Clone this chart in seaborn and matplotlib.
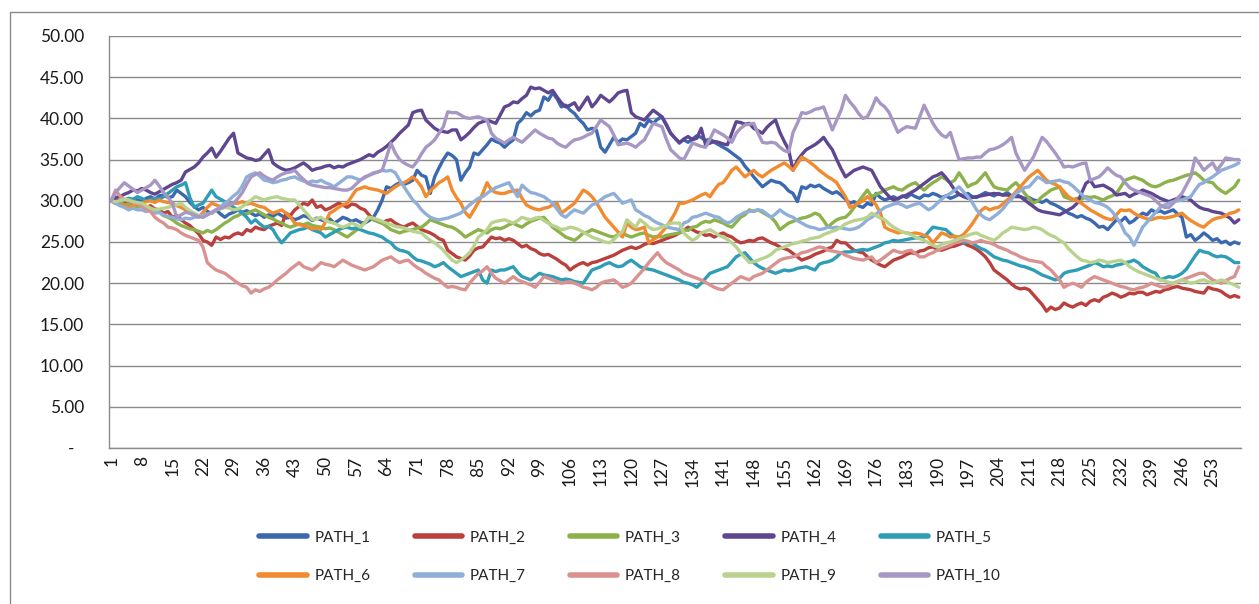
import numpy as np
import pandas as pd
import matplotlib
matplotlib.use("Agg")
import matplotlib.pyplot as plt
from matplotlib.lines import Line2D
from matplotlib.patches import Rectangle
import seaborn as sns

# values, one list per path (steps 1..259)
path_1 = [30.0, 29.7, 29.9, 29.7, 29.5, 29.8, 30.1, 29.9, 30.3, 30.5,
          30.2, 30.6, 30.7, 30.4, 30.5, 31.3, 30.9, 30.5, 29.8, 29.3,
          28.9, 29.2, 28.7, 28.5, 28.9, 28.4, 28.0, 28.4, 28.6, 28.9,
          28.6, 28.8, 28.5, 28.2, 28.4, 28.0, 28.3, 28.1, 28.5, 28.2,
          27.9, 28.0, 27.7, 27.9, 28.2, 28.0, 27.6, 27.9, 27.7, 27.5,
          27.8, 27.3, 27.6, 28.0, 27.8, 27.5, 27.7, 27.4, 27.3, 27.6,
          28.0, 28.9, 30.1, 31.7, 31.5, 31.9, 32.2, 32.0, 32.2, 32.5,
          33.7, 33.1, 32.9, 30.9, 32.9, 34.0, 35.0, 35.8, 35.5, 35.0,
          32.5, 33.4, 34.1, 35.8, 35.6, 36.2, 36.8, 37.5, 37.2, 37.0,
          36.5, 37.0, 37.4, 39.4, 39.9, 40.7, 40.3, 40.8, 41.0, 42.6,
          42.2, 43.1, 42.4, 41.4, 41.6, 41.0, 40.6, 39.9, 39.4, 38.6,
          38.8, 38.6, 36.5, 35.9, 36.8, 37.7, 37.1, 37.5, 37.4, 37.8,
          38.2, 39.4, 39.0, 39.8, 39.4, 39.9, 40.2, 39.3, 38.2, 37.6,
          37.1, 37.4, 37.1, 37.5, 37.9, 37.7, 37.3, 37.5, 37.1, 36.8,
          36.5, 36.2, 35.8, 35.4, 35.0, 34.2, 33.6, 32.9, 32.3, 31.7,
          32.1, 32.5, 32.3, 32.2, 31.8, 31.2, 30.9, 29.9, 31.7, 31.5,
          31.9, 31.7, 31.9, 31.5, 31.2, 30.9, 31.1, 30.7, 30.2, 29.7,
          29.9, 29.4, 29.2, 29.7, 29.5, 30.9, 30.4, 30.1, 30.3, 30.5,
          30.2, 30.6, 30.4, 30.8, 30.5, 30.3, 30.7, 30.6, 30.9, 30.7,
          30.4, 30.6, 30.3, 30.5, 30.8, 30.6, 30.9, 30.5, 30.4, 30.7,
          31.0, 30.8, 30.6, 30.9, 30.7, 31.0, 30.6, 30.8, 30.5, 30.3,
          30.4, 30.1, 30.0, 29.8, 30.1, 29.7, 29.5, 29.2, 28.9, 28.5,
          28.3, 28.0, 28.2, 27.9, 27.7, 27.3, 26.8, 26.9, 26.5, 27.1,
          27.7, 27.5, 28.0, 27.3, 27.6, 28.1, 28.5, 28.3, 28.9, 28.6,
          28.8, 28.5, 28.7, 28.9, 28.4, 28.0, 25.6, 25.9, 25.2, 25.6,
          26.1, 25.7, 25.2, 25.4, 24.9, 25.1, 24.7, 25.0, 24.8]

path_2 = [30.0, 30.1, 29.9, 30.0, 29.8, 29.7, 29.5, 29.6, 29.2, 29.4,
          29.0, 28.9, 28.5, 28.7, 28.0, 28.2, 27.7, 27.3, 27.0, 26.5,
          26.0, 25.2, 25.0, 24.6, 25.6, 25.3, 25.6, 25.5, 25.9, 26.1,
          25.9, 26.5, 26.3, 26.8, 26.6, 26.5, 26.9, 27.1, 27.3, 27.0,
          28.5, 28.2, 28.9, 29.3, 29.7, 29.5, 30.1, 29.2, 29.4, 28.9,
          29.1, 29.4, 29.7, 29.5, 29.2, 29.6, 29.5, 29.1, 28.9, 28.3,
          27.7, 27.5, 27.3, 27.6, 27.7, 27.3, 27.0, 26.8, 27.1, 27.3,
          26.9, 26.5, 26.3, 26.1, 25.8, 25.4, 25.2, 24.0, 23.6, 23.2,
          23.0, 22.8, 23.3, 24.0, 24.3, 24.4, 25.0, 25.6, 25.4, 25.5,
          25.2, 25.4, 25.2, 24.8, 24.4, 24.6, 24.2, 24.0, 23.6, 23.4,
          23.5, 23.2, 22.9, 22.5, 22.2, 21.6, 22.0, 22.3, 22.5, 22.2,
          22.5, 22.6, 22.8, 23.0, 23.2, 23.4, 23.7, 24.0, 24.2, 24.4,
          24.2, 24.4, 24.7, 24.9, 24.8, 25.0, 25.2, 25.4, 25.6, 25.8,
          26.1, 26.4, 26.8, 26.5, 26.2, 26.1, 25.8, 25.9, 25.6, 25.9,
          26.1, 25.8, 25.6, 25.2, 24.9, 25.0, 25.2, 25.1, 25.4, 25.5,
          25.2, 24.9, 24.7, 24.4, 24.2, 24.0, 23.6, 23.2, 22.8, 23.0,
          23.2, 23.5, 23.7, 23.9, 24.2, 24.4, 25.2, 24.9, 24.9, 24.4,
          24.0, 23.8, 23.7, 23.2, 22.8, 22.5, 22.2, 22.0, 22.4, 22.8,
          23.0, 23.2, 23.5, 23.7, 23.6, 23.9, 24.0, 24.3, 24.4, 24.1,
          24.0, 24.2, 24.4, 24.5, 24.7, 24.9, 24.6, 24.4, 24.1, 23.7,
          23.2, 22.5, 21.6, 21.2, 20.8, 20.4, 19.9, 19.5, 19.3, 19.4,
          19.2, 18.6, 18.0, 17.4, 16.6, 17.1, 16.8, 17.0, 17.6, 17.3,
          17.1, 17.4, 17.6, 17.3, 17.8, 18.0, 17.8, 18.3, 18.5, 18.8,
          18.6, 18.3, 18.5, 18.8, 18.7, 18.9, 18.9, 18.6, 18.8, 19.0,
          18.9, 19.2, 19.3, 19.5, 19.6, 19.4, 19.3, 19.2, 19.0, 18.9,
          18.8, 19.5, 19.3, 19.2, 19.0, 18.6, 18.3, 18.5, 18.3]

path_3 = [30.0, 29.7, 29.9, 29.5, 29.6, 29.3, 29.2, 29.4, 29.0, 29.1,
          28.9, 28.6, 28.2, 28.0, 27.7, 27.3, 27.0, 26.8, 26.6, 26.5,
          26.3, 26.1, 26.4, 26.2, 26.5, 26.9, 27.3, 27.6, 28.0, 28.2,
          28.5, 28.4, 28.7, 28.9, 28.6, 28.3, 28.0, 27.8, 27.5, 27.3,
          27.0, 26.8, 27.0, 27.2, 27.1, 27.3, 27.0, 26.9, 26.8, 26.6,
          26.7, 26.5, 26.2, 25.9, 25.6, 26.0, 26.4, 26.8, 27.4, 28.0,
          27.7, 27.5, 27.3, 26.9, 26.5, 26.3, 26.1, 26.3, 26.4, 26.5,
          26.7, 26.8, 27.2, 27.7, 27.5, 27.3, 27.1, 26.9, 26.8, 26.5,
          26.1, 25.6, 25.9, 26.2, 26.5, 26.3, 26.1, 26.5, 26.7, 26.6,
          26.8, 27.1, 27.3, 27.0, 26.8, 27.2, 27.5, 27.7, 27.9, 28.0,
          27.4, 26.8, 26.4, 26.0, 25.6, 25.4, 25.2, 25.6, 26.1, 26.2,
          26.5, 26.3, 26.1, 25.9, 25.7, 25.6, 25.9, 26.1, 25.8, 25.6,
          25.8, 26.0, 26.1, 25.8, 25.6, 25.7, 25.6, 25.8, 25.9, 26.0,
          26.1, 26.5, 26.4, 26.8, 26.9, 27.3, 27.5, 27.4, 27.7, 27.5,
          27.3, 27.0, 26.8, 27.4, 28.0, 28.3, 28.9, 28.7, 28.9, 28.6,
          28.3, 28.0, 27.4, 26.5, 26.9, 27.3, 27.5, 27.7, 27.9, 28.0,
          28.2, 28.5, 28.3, 27.6, 26.8, 27.3, 27.7, 27.9, 28.0, 28.5,
          29.2, 29.9, 30.6, 31.3, 30.5, 30.8, 31.0, 31.3, 31.5, 31.7,
          31.4, 31.3, 31.7, 32.0, 32.2, 31.7, 31.3, 31.8, 32.2, 32.5,
          32.9, 32.6, 32.2, 32.5, 33.4, 32.6, 31.7, 32.0, 32.2, 32.8,
          33.4, 32.5, 31.7, 31.5, 31.4, 31.3, 31.8, 32.2, 31.6, 30.9,
          30.3, 29.7, 30.0, 30.5, 30.9, 31.3, 31.5, 31.7, 30.5, 30.3,
          30.1, 30.3, 30.2, 30.5, 30.4, 30.5, 30.3, 30.1, 30.4, 30.6,
          30.9, 31.7, 32.5, 32.7, 32.9, 32.7, 32.5, 32.1, 31.8, 31.7,
          31.9, 32.2, 32.4, 32.5, 32.7, 32.9, 33.1, 33.2, 33.4, 33.0,
          32.5, 32.3, 32.2, 31.6, 31.2, 30.9, 31.3, 31.7, 32.5]

path_4 = [30.0, 30.4, 30.5, 30.8, 31.0, 31.3, 31.2, 31.5, 31.3, 31.0,
          30.8, 31.1, 31.4, 31.7, 32.0, 32.2, 32.5, 33.5, 33.8, 34.1,
          34.6, 35.3, 35.8, 36.4, 35.3, 36.0, 36.8, 37.6, 38.2, 35.8,
          35.5, 35.2, 35.1, 34.9, 35.0, 35.6, 36.2, 34.6, 34.2, 33.9,
          33.7, 33.8, 34.0, 34.3, 34.6, 34.2, 33.7, 33.9, 34.0, 34.2,
          34.3, 34.0, 34.2, 34.1, 34.4, 34.6, 34.8, 35.0, 35.3, 35.6,
          35.4, 35.9, 36.2, 36.6, 37.1, 37.6, 38.2, 38.7, 39.2, 40.7,
          40.9, 41.0, 39.8, 39.3, 38.8, 38.5, 38.4, 38.3, 38.6, 38.6,
          37.4, 37.8, 38.3, 38.9, 39.4, 39.6, 39.8, 39.6, 39.4, 40.4,
          41.4, 41.6, 42.0, 41.9, 42.4, 42.8, 43.8, 43.6, 43.7, 43.4,
          43.1, 43.4, 42.6, 41.9, 41.4, 41.6, 41.9, 41.0, 41.8, 42.6,
          41.4, 42.0, 42.8, 42.4, 42.0, 42.5, 43.1, 43.3, 43.4, 40.7,
          40.2, 40.0, 39.8, 40.4, 41.0, 40.6, 40.2, 39.2, 38.2, 37.6,
          37.0, 37.5, 37.8, 37.4, 37.6, 38.8, 36.8, 37.0, 37.2, 37.1,
          36.9, 36.8, 38.2, 39.6, 39.5, 39.3, 39.4, 38.8, 38.5, 38.2,
          38.9, 39.4, 39.8, 38.3, 37.2, 36.2, 33.7, 34.9, 35.6, 36.2,
          36.5, 36.8, 37.2, 37.7, 36.9, 36.2, 35.0, 33.9, 32.9, 33.3,
          33.7, 33.9, 34.1, 33.9, 33.7, 32.7, 31.7, 31.1, 30.5, 30.1,
          30.3, 30.5, 30.7, 31.0, 31.3, 31.7, 32.1, 32.5, 32.9, 33.1,
          33.4, 32.8, 32.1, 31.3, 30.8, 30.5, 30.3, 30.4, 30.5, 30.6,
          30.7, 30.8, 30.9, 30.8, 30.7, 30.7, 30.6, 30.5, 30.5, 30.1,
          29.7, 29.3, 28.9, 28.7, 28.6, 28.5, 28.4, 28.3, 28.6, 28.9,
          29.2, 29.7, 30.9, 32.1, 32.5, 31.7, 31.8, 31.9, 31.6, 31.3,
          30.7, 30.8, 30.9, 30.5, 30.8, 31.0, 31.3, 31.1, 30.9, 30.6,
          30.3, 30.1, 29.9, 30.1, 30.3, 30.5, 30.3, 30.1, 29.6, 29.2,
          29.0, 28.9, 28.7, 28.6, 28.5, 28.2, 27.9, 27.3, 27.7]

path_5 = [30.0, 29.8, 30.0, 30.1, 30.3, 30.2, 30.5, 30.3, 30.0, 30.1,
          30.3, 30.2, 30.5, 30.9, 31.3, 31.7, 31.9, 32.2, 30.4, 29.2,
          29.5, 29.7, 30.5, 31.3, 30.5, 30.2, 29.9, 29.7, 29.2, 28.9,
          28.5, 28.0, 27.3, 27.7, 27.2, 26.8, 26.9, 26.5, 25.6, 24.9,
          25.5, 26.1, 26.3, 26.5, 26.6, 26.8, 26.5, 26.3, 26.1, 25.6,
          25.9, 26.2, 26.5, 26.7, 26.8, 26.6, 26.7, 26.5, 26.3, 26.1,
          26.0, 25.8, 25.6, 25.2, 24.9, 24.3, 24.0, 23.9, 23.7, 23.2,
          22.8, 22.7, 22.5, 22.3, 22.0, 22.2, 22.5, 22.0, 21.6, 21.2,
          20.8, 21.0, 21.2, 21.4, 21.6, 20.4, 20.0, 21.6, 21.4, 21.6,
          21.6, 21.8, 22.0, 21.3, 20.8, 20.6, 20.4, 20.8, 21.2, 21.0,
          20.9, 20.8, 20.6, 20.4, 20.5, 20.4, 20.2, 20.1, 20.0, 20.8,
          21.6, 21.8, 22.0, 22.3, 22.5, 22.2, 22.0, 22.1, 22.5, 22.8,
          22.4, 22.0, 21.8, 21.7, 21.6, 21.4, 21.2, 21.0, 20.8, 20.6,
          20.4, 20.1, 20.0, 19.8, 19.5, 20.0, 20.6, 21.2, 21.4, 21.6,
          21.8, 22.0, 22.6, 23.2, 23.5, 23.7, 23.1, 22.5, 22.1, 21.8,
          21.6, 21.4, 21.2, 21.4, 21.6, 21.5, 21.6, 21.8, 21.9, 22.0,
          21.8, 21.6, 22.3, 22.5, 22.6, 22.8, 23.2, 23.7, 23.8, 23.8,
          23.9, 24.0, 24.1, 24.0, 24.2, 24.4, 24.6, 24.9, 25.0, 25.2,
          25.1, 25.2, 25.3, 25.4, 25.5, 25.5, 25.6, 26.2, 26.8, 26.7,
          26.6, 26.5, 26.0, 25.6, 25.3, 24.9, 25.0, 24.9, 24.5, 24.2,
          24.0, 23.6, 23.2, 23.0, 22.8, 22.7, 22.5, 22.3, 22.1, 22.0,
          21.8, 21.6, 21.3, 21.0, 20.8, 20.6, 20.4, 20.6, 21.2, 21.4,
          21.5, 21.6, 21.8, 22.0, 22.2, 22.5, 22.3, 22.0, 22.1, 22.0,
          22.2, 22.3, 22.5, 22.6, 22.8, 22.5, 22.0, 21.7, 21.4, 21.2,
          20.4, 20.6, 20.8, 20.7, 20.9, 21.2, 21.7, 22.5, 23.3, 24.0,
          23.8, 23.7, 23.4, 23.2, 23.3, 23.2, 22.9, 22.5, 22.5]

path_6 = [30.0, 29.7, 29.5, 29.4, 29.2, 29.4, 29.6, 29.7, 29.9, 30.0,
          29.8, 30.1, 29.9, 29.8, 29.7, 29.4, 29.2, 28.9, 28.5, 28.2,
          28.0, 28.6, 29.2, 29.7, 29.5, 29.3, 29.2, 29.5, 29.7, 29.7,
          29.9, 29.6, 29.7, 29.5, 29.3, 29.2, 28.8, 28.5, 28.7, 28.9,
          28.5, 28.0, 27.3, 27.1, 27.0, 26.8, 26.6, 26.7, 26.5, 27.4,
          28.5, 28.8, 29.2, 29.5, 29.7, 30.5, 31.3, 31.5, 31.7, 31.5,
          31.4, 31.3, 31.1, 30.9, 31.3, 31.7, 32.0, 32.2, 32.5, 32.9,
          32.4, 31.7, 30.5, 31.2, 31.7, 32.2, 32.5, 32.9, 31.3, 30.4,
          29.7, 28.6, 28.0, 28.9, 29.8, 30.9, 32.2, 31.3, 31.0, 30.9,
          30.9, 31.1, 31.2, 31.3, 30.3, 29.5, 29.2, 29.0, 28.9, 29.1,
          29.2, 29.5, 29.7, 28.5, 28.9, 29.3, 29.7, 30.5, 31.3, 31.0,
          30.5, 29.8, 28.9, 28.0, 27.4, 26.8, 26.2, 25.6, 27.3, 26.8,
          26.5, 26.6, 26.8, 24.9, 25.3, 25.6, 26.2, 26.8, 27.6, 28.5,
          29.7, 29.7, 29.9, 30.1, 30.4, 30.7, 30.9, 30.5, 31.3, 32.0,
          32.2, 32.9, 33.7, 34.1, 33.5, 32.9, 33.3, 33.7, 33.2, 32.9,
          33.3, 33.7, 34.0, 34.3, 34.6, 34.2, 33.7, 34.5, 35.3, 35.0,
          34.6, 34.2, 33.7, 33.3, 32.9, 32.6, 32.2, 31.3, 30.5, 29.2,
          29.4, 29.7, 30.0, 30.5, 30.1, 29.5, 28.5, 26.8, 26.5, 26.3,
          26.1, 26.2, 26.1, 26.0, 26.1, 26.0, 25.8, 25.6, 24.9, 25.5,
          26.1, 25.9, 25.6, 25.7, 25.6, 25.9, 26.5, 27.2, 28.0, 28.8,
          29.2, 28.9, 29.1, 29.2, 29.6, 30.1, 30.5, 31.1, 31.7, 32.3,
          32.9, 33.3, 33.7, 33.1, 32.5, 32.2, 32.0, 31.7, 31.1, 30.5,
          30.2, 30.0, 29.7, 29.3, 28.9, 28.6, 28.3, 28.0, 27.8, 27.7,
          28.3, 28.9, 28.8, 28.9, 28.5, 28.2, 28.0, 27.8, 27.7, 27.9,
          28.0, 27.9, 28.0, 28.1, 28.3, 28.5, 28.0, 27.6, 27.3, 27.0,
          26.8, 27.3, 27.7, 27.9, 28.0, 28.2, 28.5, 28.6, 28.9]

path_7 = [30.0, 29.7, 29.4, 29.2, 28.9, 29.1, 28.9, 28.9, 28.7, 28.8,
          28.5, 28.6, 28.3, 28.1, 28.0, 27.8, 27.7, 27.9, 27.8, 28.0,
          28.1, 28.3, 28.4, 28.5, 28.9, 29.3, 29.7, 30.1, 30.6, 31.0,
          31.8, 32.9, 33.2, 33.4, 33.0, 32.5, 32.4, 32.2, 32.3, 32.5,
          32.6, 32.8, 32.9, 32.6, 32.4, 32.2, 32.4, 32.3, 32.5, 32.2,
          32.0, 31.7, 32.1, 32.5, 32.9, 32.9, 32.7, 32.5, 32.8, 33.1,
          33.4, 33.5, 33.7, 33.6, 33.7, 33.4, 32.5, 31.7, 30.9, 30.1,
          29.6, 28.9, 28.4, 28.0, 27.8, 27.7, 27.8, 27.9, 28.1, 28.3,
          28.5, 29.0, 29.5, 29.9, 30.3, 30.5, 30.9, 31.3, 31.6, 31.8,
          32.0, 32.2, 31.3, 30.5, 31.9, 31.4, 31.0, 30.9, 30.7, 30.5,
          30.1, 29.7, 29.0, 28.3, 28.0, 28.5, 28.9, 28.7, 28.5, 29.0,
          29.5, 29.7, 30.1, 30.5, 30.7, 30.9, 30.3, 29.7, 29.9, 30.1,
          28.9, 28.6, 28.2, 28.0, 27.6, 27.3, 27.1, 26.8, 26.7, 26.6,
          26.5, 27.3, 27.5, 28.0, 28.1, 28.3, 28.5, 28.3, 28.1, 28.0,
          27.6, 27.3, 27.5, 28.0, 28.3, 28.6, 28.7, 28.8, 28.9, 28.8,
          28.4, 28.0, 28.4, 28.9, 28.5, 28.2, 28.0, 27.6, 27.3, 27.0,
          26.8, 26.7, 26.5, 26.6, 26.8, 26.7, 26.8, 26.7, 26.6, 26.5,
          26.6, 26.8, 27.2, 27.7, 28.0, 28.4, 28.8, 29.2, 29.4, 29.6,
          29.7, 29.5, 29.2, 29.4, 29.6, 29.7, 29.3, 28.9, 29.2, 29.7,
          30.2, 30.6, 30.9, 31.3, 31.7, 31.1, 30.5, 29.8, 28.9, 28.3,
          27.9, 27.7, 28.1, 28.5, 29.0, 29.7, 30.2, 30.9, 31.2, 31.6,
          31.7, 32.3, 32.9, 32.6, 32.2, 32.3, 32.4, 32.5, 32.3, 32.2,
          31.8, 31.3, 30.8, 30.3, 30.1, 29.8, 29.7, 29.5, 29.2, 28.7,
          28.0, 27.2, 26.1, 25.6, 24.6, 25.7, 26.8, 27.4, 28.0, 28.6,
          29.2, 29.5, 29.7, 29.9, 30.0, 30.1, 30.3, 30.5, 31.3, 32.0,
          32.2, 32.6, 32.9, 33.3, 33.7, 33.9, 34.1, 34.3, 34.6]

path_8 = [30.0, 31.3, 30.6, 30.1, 30.0, 29.8, 29.7, 29.3, 29.0, 28.7,
          28.0, 27.6, 27.3, 26.8, 26.7, 26.5, 26.1, 25.8, 25.6, 25.4,
          25.2, 24.4, 22.5, 22.0, 21.6, 21.4, 21.2, 20.8, 20.4, 20.0,
          19.7, 19.5, 18.8, 19.2, 19.0, 19.3, 19.5, 19.9, 20.4, 20.8,
          21.2, 21.7, 22.1, 22.5, 22.0, 21.8, 21.6, 22.0, 22.5, 22.3,
          22.2, 22.0, 22.4, 22.8, 22.5, 22.2, 22.0, 21.8, 21.6, 21.8,
          22.0, 22.4, 22.8, 23.0, 23.2, 22.8, 22.5, 22.7, 22.8, 22.3,
          21.9, 21.6, 21.2, 20.9, 20.6, 20.4, 19.9, 19.5, 19.6, 19.5,
          19.3, 19.2, 20.0, 20.6, 21.2, 21.5, 22.0, 21.2, 20.6, 20.3,
          20.0, 20.4, 20.8, 20.4, 20.2, 20.0, 19.8, 19.5, 20.1, 20.8,
          20.6, 20.4, 20.2, 20.0, 20.1, 20.2, 20.0, 19.8, 19.5, 19.4,
          19.2, 19.5, 20.0, 20.2, 20.3, 20.4, 20.0, 19.5, 19.7, 20.0,
          20.6, 21.2, 21.8, 22.5, 23.1, 23.7, 23.0, 22.5, 22.2, 21.9,
          21.6, 21.2, 21.0, 20.8, 20.6, 20.4, 20.1, 19.8, 19.5, 19.3,
          19.2, 19.6, 20.0, 20.4, 20.8, 20.6, 20.4, 20.8, 21.0, 21.2,
          21.6, 22.0, 22.4, 22.8, 23.0, 23.1, 23.2, 23.4, 23.7, 23.8,
          24.0, 24.2, 24.4, 24.3, 24.0, 23.9, 23.8, 23.7, 23.4, 23.2,
          23.0, 22.9, 22.8, 23.0, 23.2, 22.5, 22.8, 23.2, 23.6, 24.0,
          23.8, 23.7, 23.9, 24.0, 23.6, 23.2, 23.2, 23.5, 23.7, 24.0,
          24.2, 24.4, 24.6, 24.9, 25.0, 25.2, 25.1, 24.9, 25.0, 25.2,
          25.0, 24.9, 24.7, 24.4, 24.2, 24.0, 23.7, 23.5, 23.2, 23.0,
          22.8, 22.7, 22.6, 22.5, 22.0, 21.6, 21.0, 20.4, 19.5, 19.8,
          20.0, 19.8, 19.5, 20.1, 20.5, 20.8, 20.6, 20.4, 20.2, 20.0,
          19.8, 19.6, 19.5, 19.3, 19.2, 19.4, 19.5, 19.7, 20.0, 19.8,
          19.6, 19.5, 19.7, 20.0, 20.2, 20.4, 20.6, 20.8, 21.0, 21.2,
          21.2, 20.8, 20.4, 20.2, 20.0, 20.3, 20.6, 20.8, 22.0]

path_9 = [30.0, 29.9, 30.0, 30.2, 30.1, 29.9, 29.8, 29.7, 29.4, 29.1,
          28.9, 29.0, 29.1, 29.2, 29.4, 29.5, 29.7, 29.2, 28.8, 28.5,
          28.2, 28.0, 28.3, 28.6, 28.9, 29.0, 29.2, 29.1, 28.9, 29.0,
          29.3, 29.7, 30.1, 30.5, 30.3, 30.1, 30.3, 30.4, 30.5, 30.3,
          30.2, 30.1, 30.1, 29.5, 28.9, 28.3, 27.7, 27.8, 28.0, 27.6,
          27.4, 27.3, 27.0, 26.8, 27.0, 27.3, 27.1, 26.8, 27.3, 28.0,
          27.9, 27.7, 27.5, 27.3, 27.1, 26.9, 26.8, 26.7, 26.5, 26.3,
          26.2, 26.1, 25.6, 25.2, 24.9, 24.5, 24.0, 23.4, 22.8, 22.5,
          22.8, 23.2, 23.7, 24.5, 25.6, 26.0, 26.5, 27.3, 27.5, 27.6,
          27.7, 27.5, 27.3, 27.6, 28.0, 27.8, 27.7, 27.9, 28.0, 27.6,
          27.3, 27.0, 26.8, 26.5, 26.6, 26.8, 26.7, 26.5, 26.2, 25.9,
          25.6, 25.4, 25.2, 25.0, 24.9, 25.3, 25.8, 26.3, 27.7, 27.2,
          26.8, 27.7, 27.3, 26.8, 26.5, 26.6, 26.8, 27.0, 27.3, 27.3,
          27.3, 26.1, 25.6, 25.2, 25.5, 26.1, 26.3, 26.5, 26.2, 25.8,
          25.6, 25.3, 24.9, 24.4, 23.7, 23.1, 22.5, 22.6, 22.8, 23.0,
          23.2, 23.5, 24.0, 24.2, 24.4, 24.6, 24.8, 24.9, 25.1, 25.2,
          25.4, 25.5, 25.6, 25.9, 26.1, 26.3, 26.5, 26.8, 27.2, 27.4,
          27.6, 27.7, 27.8, 28.0, 28.5, 28.2, 27.9, 27.7, 27.2, 26.8,
          26.5, 26.2, 26.1, 25.9, 25.6, 25.4, 25.2, 24.9, 24.6, 24.4,
          24.7, 24.9, 25.0, 25.2, 25.4, 25.6, 25.8, 26.0, 26.1, 25.8,
          25.6, 25.4, 25.2, 25.6, 26.1, 26.4, 26.8, 26.7, 26.6, 26.5,
          26.6, 26.8, 26.7, 26.5, 26.1, 25.8, 25.6, 25.2, 24.9, 24.2,
          23.7, 23.2, 22.8, 22.7, 22.5, 22.6, 22.8, 22.7, 22.5, 22.6,
          22.7, 22.8, 22.5, 22.0, 21.7, 21.4, 21.2, 21.0, 20.8, 20.6,
          20.4, 20.3, 20.1, 20.0, 20.2, 20.4, 20.2, 20.0, 20.1, 20.3,
          20.4, 20.2, 20.0, 20.2, 20.4, 20.2, 20.0, 19.8, 19.5]

path_10 = [30.0, 31.0, 31.6, 32.2, 31.8, 31.4, 31.0, 31.3, 31.6, 31.9,
           32.5, 31.8, 31.0, 30.4, 29.7, 28.0, 28.3, 28.6, 28.5, 28.3,
           28.1, 28.0, 28.3, 28.6, 28.9, 29.1, 29.3, 29.6, 29.7, 30.3,
           31.0, 32.0, 32.9, 33.2, 33.4, 33.0, 32.7, 32.5, 32.9, 33.2,
           33.4, 33.5, 33.7, 33.1, 32.6, 32.1, 31.9, 31.8, 31.7, 31.6,
           31.6, 31.5, 31.4, 31.3, 31.3, 31.5, 32.0, 32.5, 32.9, 33.1,
           33.3, 33.5, 33.7, 35.3, 37.0, 35.8, 35.0, 34.6, 34.3, 34.1,
           34.8, 35.7, 36.5, 36.9, 37.4, 38.2, 39.0, 40.8, 40.7, 40.7,
           40.4, 40.1, 40.0, 40.1, 40.2, 40.0, 39.8, 38.2, 37.6, 37.3,
           37.0, 37.4, 37.7, 37.4, 37.1, 37.6, 38.1, 38.6, 38.2, 37.9,
           37.6, 37.5, 37.0, 36.7, 36.5, 37.0, 37.4, 37.5, 37.7, 38.0,
           38.2, 39.0, 39.8, 39.4, 39.0, 38.0, 36.8, 36.9, 37.0, 36.8,
           36.5, 37.0, 37.4, 38.4, 39.4, 39.2, 39.0, 37.5, 36.2, 35.7,
           35.2, 35.0, 36.0, 37.0, 36.8, 36.6, 36.5, 37.5, 38.6, 38.3,
           38.0, 37.6, 37.1, 38.2, 38.8, 39.2, 39.3, 39.4, 38.2, 37.1,
           37.0, 37.1, 37.0, 36.5, 36.1, 35.9, 38.3, 39.4, 40.7, 40.6,
           40.8, 41.1, 41.2, 41.4, 40.0, 38.6, 39.8, 41.0, 42.8, 42.0,
           41.4, 40.6, 40.0, 40.2, 41.2, 42.5, 41.8, 41.4, 40.7, 39.5,
           38.3, 38.7, 39.0, 38.9, 38.8, 40.2, 41.6, 40.5, 39.4, 38.6,
           38.0, 37.7, 38.3, 36.6, 35.0, 35.1, 35.2, 35.2, 35.3, 35.3,
           35.8, 36.2, 36.3, 36.5, 36.8, 37.2, 37.7, 35.8, 34.7, 33.7,
           34.5, 35.3, 36.5, 37.7, 37.2, 36.5, 35.8, 35.0, 34.1, 34.2,
           34.1, 34.3, 34.5, 34.6, 32.5, 32.7, 32.9, 33.4, 34.0, 33.5,
           33.1, 32.9, 32.2, 31.6, 31.3, 31.1, 30.9, 30.7, 30.5, 30.0,
           29.5, 29.2, 29.2, 29.7, 30.3, 30.9, 31.9, 32.9, 35.2, 34.5,
           33.7, 34.2, 34.6, 33.7, 34.4, 35.2, 35.1, 35.0, 35.0]

path_names = ["PATH_1", "PATH_2", "PATH_3", "PATH_4", "PATH_5",
              "PATH_6", "PATH_7", "PATH_8", "PATH_9", "PATH_10"]
path_colors = ["#3A69B0", "#B9403D", "#8DB14B", "#5E4691", "#2F9DB5",
               "#F28A2E", "#8FAFD9", "#D9928F", "#B9D38F", "#A797C5"]
y_ticks = [0, 5, 10, 15, 20, 25, 30, 35, 40, 45, 50]
y_labels = ["-  ", "5.00", "10.00", "15.00", "20.00", "25.00",
            "30.00", "35.00", "40.00", "45.00", "50.00"]

sns.set_style("white")
plt.rcParams["font.family"] = ["Lato", "DejaVu Sans"]

all_paths = [path_1, path_2, path_3, path_4, path_5,
             path_6, path_7, path_8, path_9, path_10]
frames = []
for name, vals in zip(path_names, all_paths):
    frames.append(pd.DataFrame({"step": np.arange(1, len(vals) + 1),
                                "value": vals, "path": name}))
df = pd.concat(frames, ignore_index=True)
n_steps = max(len(v) for v in all_paths)

W, H = 1259, 604
fig = plt.figure(figsize=(W / 100, H / 100), dpi=100)
ax = fig.add_axes([109 / W, 1 - 448 / H, (1241 - 109) / W, (448 - 36) / H])

sns.lineplot(data=df, x="step", y="value", hue="path",
             palette=dict(zip(path_names, path_colors)),
             linewidth=2.4, legend=False, estimator=None, sort=False, ax=ax)

grid_col = "#8A8A8A"
ax.set_ylim(0, 50)
ax.set_xlim(0.5, n_steps + 0.5)
ax.set_yticks(y_ticks)
ax.set_yticklabels(y_labels)
ax.set_xticks(list(range(1, n_steps + 1, 7)))
ax.set_xticklabels([str(i) for i in range(1, n_steps + 1, 7)], rotation=90)
ax.set_xticks(np.arange(0.5, n_steps + 1, 1), minor=True)
ax.set_xlabel("")
ax.set_ylabel("")

ax.yaxis.grid(True, color=grid_col, linewidth=1)
ax.xaxis.grid(False)
ax.set_axisbelow(True)
for side in ["top", "right"]:
    ax.spines[side].set_visible(False)
for side in ["left", "bottom"]:
    ax.spines[side].set_color(grid_col)
    ax.spines[side].set_linewidth(1)

ax.tick_params(axis="y", which="major", length=5, color=grid_col,
               labelsize=12.5, pad=13, labelcolor="#1a1a1a")
ax.tick_params(axis="x", which="major", length=0, labelsize=12.5, pad=6,
               labelcolor="#1a1a1a")
ax.tick_params(axis="x", which="minor", length=5, width=0.8, color=grid_col)

handles = [Line2D([], [], color=c, linewidth=4) for c in path_colors]
order = [0, 5, 1, 6, 2, 7, 3, 8, 4, 9]
fig.legend([handles[i] for i in order], [path_names[i] for i in order],
           ncol=5, loc="center", bbox_to_anchor=(630 / W, 1 - 557 / H),
           frameon=False, fontsize=11, handlelength=3.1, handletextpad=0.5,
           columnspacing=2.9, labelspacing=1.6)

# outer chart border
fig.add_artist(Rectangle((9.5 / W, -0.05), 1.2, 1 - 11.5 / H + 0.05,
                         transform=fig.transFigure, fill=False,
                         edgecolor=grid_col, linewidth=1))

fig.savefig("out.png", dpi=100)
